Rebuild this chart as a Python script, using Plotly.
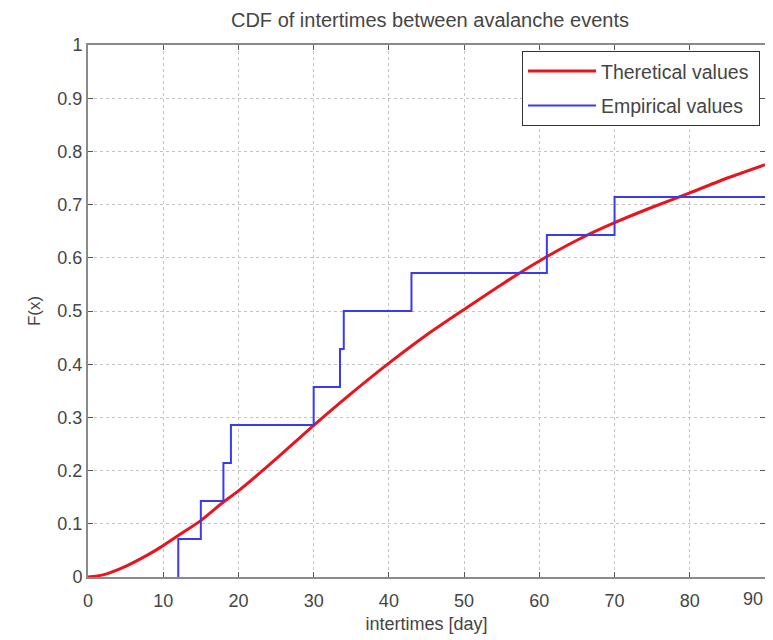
import plotly.graph_objects as go

# Theoretical CDF
theo_x = [0, 2, 5, 8, 10, 12, 15, 18, 20, 25, 30, 35, 40, 45, 50, 55, 60, 65, 70, 75, 80, 85, 90]
theo_y = [0.0, 0.004, 0.02, 0.042, 0.059, 0.078, 0.106, 0.141, 0.162, 0.222, 0.285, 0.345,
          0.402, 0.455, 0.503, 0.55, 0.594, 0.633, 0.666, 0.695, 0.722, 0.75, 0.775]

# Empirical CDF step points
emp_x = [12, 12, 15, 18, 19, 30, 33.5, 34, 43, 61, 70, 90]
emp_y = [0.0, 0.0714, 0.1429, 0.2143, 0.2857, 0.3571, 0.4286, 0.5, 0.5714, 0.6429, 0.7143, 0.7143]

x_ticks = [0, 10, 20, 30, 40, 50, 60, 70, 80, 90]
x_tick_text = ["0", "10", "20", "30", "40", "50", "60", "70", "80", ""]
last_x_label = "90"
y_ticks = [0, 0.1, 0.2, 0.3, 0.4, 0.5, 0.6, 0.7, 0.8, 0.9, 1]
y_tick_text = ["0", "0.1", "0.2", "0.3", "0.4", "0.5", "0.6", "0.7", "0.8", "0.9", "1"]

FONT = "Liberation Sans"
TXT = "#454545"

fig = go.Figure()
fig.add_trace(go.Scatter(x=theo_x, y=theo_y, mode="lines", name="Theretical values\u00a0",
                         legendgroup="a",
                         line=dict(color="#e8141e", width=3, shape="spline", smoothing=0.6)))
fig.add_trace(go.Scatter(x=emp_x, y=emp_y, mode="lines", name="Empirical values",
                         legendgroup="b",
                         line=dict(color="#3a3af0", width=2, shape="hv")))

axis_common = dict(
    showline=True, mirror="ticks", linecolor="#8a8a8a", linewidth=2,
    ticks="inside", ticklen=5, tickcolor="#555", tickwidth=1,
    showgrid=True, gridcolor="#c4c4c4", griddash="dot", gridwidth=1,
    zeroline=False, automargin=False,
    tickfont=dict(size=18, color=TXT, family=FONT),
)

fig.update_xaxes(range=[0, 90], tickvals=x_ticks, ticktext=x_tick_text,
                 ticklabelstandoff=6,
                 title=dict(text="intertimes [day]", font=dict(size=18, color=TXT, family=FONT), standoff=8),
                 **axis_common)
fig.update_yaxes(range=[0, 1], tickvals=y_ticks, ticktext=y_tick_text,
                 title=dict(text="F(x)", font=dict(size=17, color=TXT, family=FONT), standoff=12),
                 **axis_common)

fig.add_annotation(x=x_ticks[-1], xref="x", y=0, yref="paper", text=last_x_label,
                   showarrow=False, xanchor="right", yanchor="middle", yshift=-22,
                   font=dict(size=18, color=TXT, family=FONT))

fig.update_layout(
    width=765, height=632,
    margin=dict(l=80, r=8, t=37, b=63, autoexpand=False),
    paper_bgcolor="white", plot_bgcolor="white",
    title=dict(text="CDF of intertimes between avalanche events", x=0.5516, xanchor="center",
               y=0.981, yanchor="middle",
               font=dict(size=20, color=TXT, family=FONT)),
    legend=dict(x=0.9926, y=0.989, xanchor="right", yanchor="top",
                bgcolor="white", bordercolor="#333", borderwidth=1,
                font=dict(size=19.5, color=TXT, family=FONT),
                itemwidth=68, tracegroupgap=6, traceorder="grouped"),
    showlegend=True,
)

fig.write_html("out.html")
